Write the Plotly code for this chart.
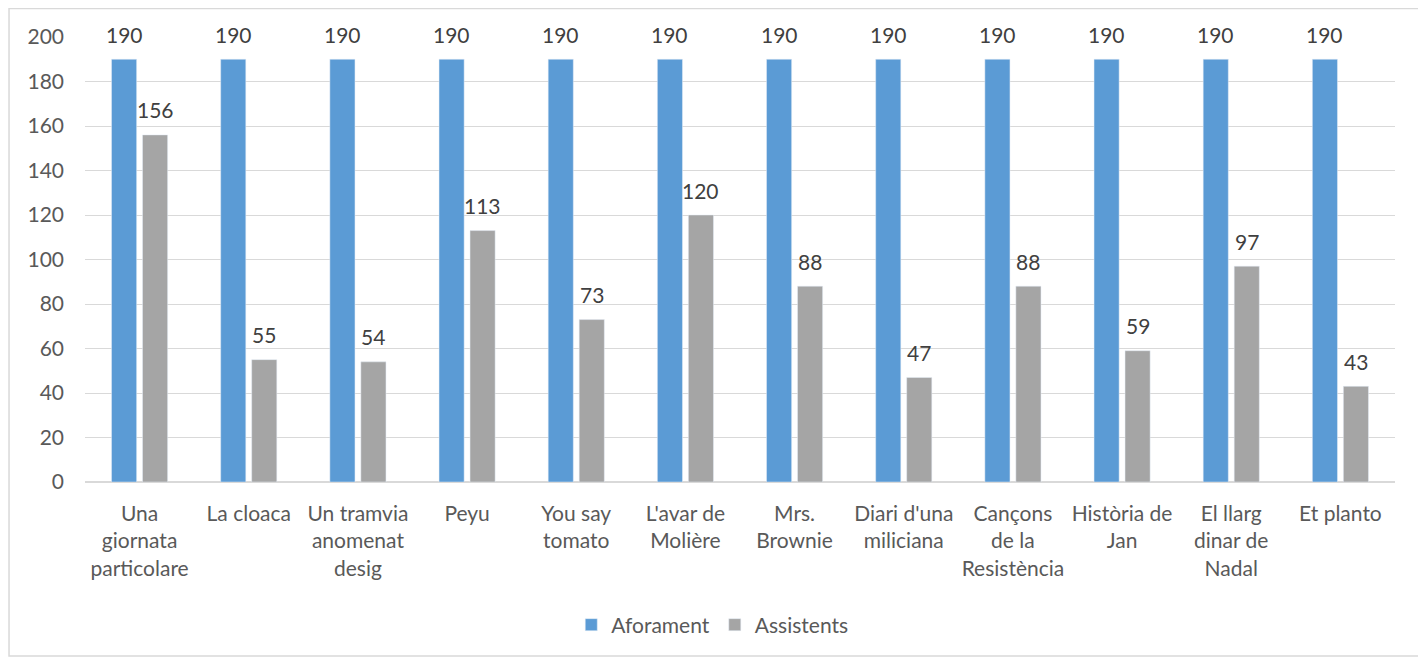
import plotly.graph_objects as go

categories = ["Una<br>giornata<br>particolare", "La cloaca", "Un tramvia<br>anomenat<br>desig", "Peyu",
              "You say<br>tomato", "L'avar de<br>Molière", "Mrs.<br>Brownie", "Diari d'una<br>miliciana",
              "Cançons<br>de la<br>Resistència", "Història de<br>Jan", "El llarg<br>dinar de<br>Nadal", "Et planto"]
aforament = [190, 190, 190, 190, 190, 190, 190, 190, 190, 190, 190, 190]
assistents = [156, 55, 54, 113, 73, 120, 88, 47, 88, 59, 97, 43]

FONT = "Lato, 'Open Sans', sans-serif"
FS = 21
W, H = 1426, 659
OFF = 8  # page body offset
L, T = 84.5 - OFF, 37 - OFF
R = W - (1395 - OFF)
B = H - (482 - OFF)
pw, ph = W - L - R, H - T - B

def px(x):
    return (x - OFF - L) / pw

def py(y):
    return ((482 - OFF) - (y - OFF)) / ph

fig = go.Figure()
fig.add_trace(go.Bar(name="Aforament", x=categories, y=aforament, marker_color="#5b9bd5"))
fig.add_trace(go.Bar(name="Assistents", x=categories, y=assistents, marker_color="#a5a5a5"))

annotations = []
for series, shift in ((aforament, -15.5), (assistents, 15.5)):
    for c, v in zip(categories, series):
        annotations.append(dict(x=c, y=v, xref="x", yref="y", text=str(v), showarrow=False,
                                xshift=shift, yshift=25, yanchor="middle", xanchor="center",
                                font=dict(size=FS, color="#404040", family=FONT)))

fig.update_layout(
    width=W, height=H,
    margin=dict(l=L, r=R, t=T, b=B, autoexpand=False),
    paper_bgcolor="white", plot_bgcolor="white",
    barmode="group", bargap=0.432, bargroupgap=0.19,
    font=dict(family=FONT, size=FS, color="#595959"),
    showlegend=True,
    legend=dict(orientation="h", x=px(712), y=py(625), xanchor="center", yanchor="middle",
                font=dict(size=FS, color="#595959", family=FONT), itemwidth=30,
                traceorder="normal"),
    annotations=annotations,
    shapes=[
        dict(type="rect", xref="paper", yref="paper", x0=px(8.5), x1=px(1421.5), y0=py(656), y1=py(8.5),
             line=dict(color="#d9d9d9", width=1.5), fillcolor="rgba(0,0,0,0)", layer="below"),
        dict(type="rect", xref="paper", yref="paper", x0=px(1422.5), x1=px(1426), y0=py(62), y1=py(18),
             line=dict(width=0), fillcolor="#9bbb59", layer="above"),
    ],
)
fig.update_yaxes(range=[0, 200], dtick=20, showgrid=True, gridcolor="#d9d9d9", gridwidth=1,
                 zeroline=True, zerolinecolor="#d9d9d9", zerolinewidth=1.5,
                 showline=False, ticks="", ticklabelstandoff=20, automargin=False,
                 tickfont=dict(size=FS, color="#595959", family=FONT))
fig.update_xaxes(showgrid=False, showline=False, ticks="", ticklabelstandoff=17, automargin=False,
                 tickfont=dict(size=FS, color="#595959", family=FONT), tickangle=0)

fig.write_html("out.html")
